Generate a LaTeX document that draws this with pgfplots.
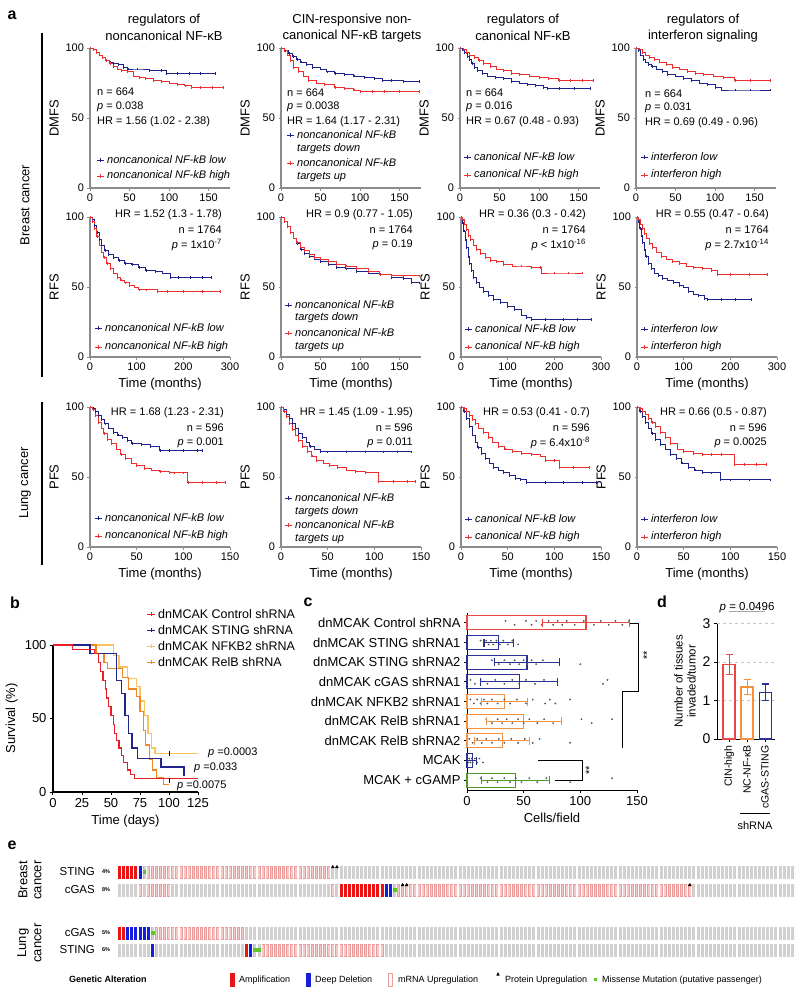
\documentclass[border=0pt]{standalone}
\usepackage{fontspec}
\setmainfont{Liberation Sans}
\usepackage{pgfplots}
\pgfplotsset{compat=1.18}

\definecolor{kmblue}{RGB}{30,35,140}
\definecolor{kmred}{RGB}{240,45,45}
\definecolor{axgray}{RGB}{140,140,140}
\definecolor{bred}{RGB}{232,30,40}
\definecolor{bblue}{RGB}{35,35,140}
\definecolor{byel}{RGB}{250,195,95}
\definecolor{bora}{RGB}{240,135,35}
\definecolor{cred}{RGB}{235,70,70}
\definecolor{cblue}{RGB}{40,50,150}
\definecolor{cora}{RGB}{245,145,60}
\definecolor{cgrn}{RGB}{80,150,40}
\definecolor{cellgray}{RGB}{208,208,208}
\definecolor{ampred}{RGB}{235,20,20}
\definecolor{deepblue}{RGB}{20,30,220}
\definecolor{mrnaline}{RGB}{236,155,155}
\definecolor{mrnafill}{RGB}{246,200,200}
\definecolor{misgreen}{RGB}{90,200,40}

\newcommand{\fa}{\fontsize{11}{12}\selectfont}
\newcommand{\ft}{\fontsize{13}{15}\selectfont}
\newcommand{\fb}{\fontsize{12.5}{14}\selectfont}
\newcommand{\fc}{\fontsize{13}{14}\selectfont}
\newcommand{\fe}{\fontsize{9}{10}\selectfont}

% text in panel a, absolute px
\newcommand{\T}[4][west]{\node[anchor=#1,inner sep=0pt,font=\fa] at (#2pt,-#3pt) {#4};}
% legend line with censor tick
\newcommand{\LG}[4]{%
  \draw[#3,line width=1pt] (#1pt,-#2pt) -- ++(7pt,0pt);
  \draw[#3,line width=0.6pt] (#1pt+3.5pt,-#2pt+1.7pt) -- ++(0pt,-3.4pt);
  \node[anchor=west,inner sep=0pt,font=\fa\itshape] at (#1pt+10pt,-#2pt) {#4};}
\newcommand{\LGb}[4]{%
  \draw[#3,line width=1pt] (#1pt,-#2pt) -- ++(8pt,0pt);
  \draw[#3,line width=0.6pt] (#1pt+4pt,-#2pt+1.8pt) -- ++(0pt,-3.6pt);
  \node[anchor=west,inner sep=0pt,font=\fb] at (#1pt+11pt,-#2pt) {#4};}
\newcommand{\PL}[3]{\node[font=\fontsize{16}{18}\selectfont\bfseries,inner sep=0pt] at (#1pt,-#2pt) {#3};}

\tikzset{
  cell/.style={line width=13pt, dash pattern=on 3pt off 1.103pt},
  amp/.style={cell, color=ampred},
  del/.style={cell, color=deepblue},
  mra/.style={cell, color=mrnaline},
  mrb/.style={line width=11pt, color=mrnafill, dash pattern=on 1.6pt off 2.503pt},
}
\pgfplotsset{
  /pgf/number format/assume math mode=true,
  km/.style={scale only axis, width=140pt, height=140pt, anchor=south west,
    axis lines*=left, xmin=0, ymin=0, ymax=100, ytick={0,50,100}, clip=false,
    axis line style={draw=axgray, line width=1.1pt},
    tick style={draw=axgray, line width=0.8pt}, tick align=outside, major tick length=2.5pt,
    tick label style={font=\fa}, label style={font=\ft}},
  k1/.style={xmax=177, xtick={0,50,100,150}},
  k3/.style={xmax=300, xtick={0,100,200,300}},
  k5/.style={xmax=150, xtick={0,50,100,150}},
  lo/.style={const plot, color=kmblue, line width=1pt, mark=|, mark size=1.3pt, mark options={line width=0.5pt}},
  hi/.style={const plot, color=kmred, line width=1pt, mark=|, mark size=1.3pt, mark options={line width=0.5pt}},
  hb/.style={xbar, bar width=14pt, bar shift=0pt, draw=#1, line width=1.2pt, fill=none},
  he/.style={color=#1, line width=1.1pt, mark=|, mark size=4pt, mark options={line width=1.1pt}},
  vb/.style={ybar, bar width=12pt, bar shift=0pt, draw=#1, line width=1.2pt, fill=none},
  ve/.style={color=#1, line width=1.1pt, mark=-, mark size=3.5pt, mark options={line width=1.1pt}},
}

\begin{document}
\begin{tikzpicture}
\useasboundingbox (0pt,0pt) rectangle (800pt,-997pt);

%% ---------------- panel a ----------------
\PL{12}{15}{a}
\draw[line width=1.2pt] (42pt,-33pt) -- (42pt,-377pt);
\draw[line width=1.2pt] (42pt,-402pt) -- (42pt,-565pt);
\node[rotate=90,font=\ft] at (25pt,-205pt) {Breast cancer};
\node[rotate=90,font=\ft] at (25pt,-483pt) {Lung cancer};

\node[font=\ft] at (164pt,-20pt) {regulators of};
\node[font=\ft] at (164pt,-36pt) {noncanonical NF-κB};
\node[font=\ft] at (352pt,-20pt) {CIN-responsive non-};
\node[font=\ft] at (352pt,-36pt) {canonical NF-κB targets};
\node[font=\ft] at (523pt,-20pt) {regulators of};
\node[font=\ft] at (523pt,-36pt) {canonical NF-κB};
\node[font=\ft] at (703pt,-20pt) {regulators of};
\node[font=\ft] at (703pt,-36pt) {interferon signaling};

% row 1: DMFS
\begin{axis}[km,k1,at={(90pt,-188pt)},ylabel={DMFS}]
\addplot[lo] coordinates {(0,100)(4,99)(8,97)(12,95)(16,93)(20,91)(25,90)(30,89)(36,88)(42,86)(48,85)(60,85)(75,84)(90,84)(97,82)(110,82)(125,82)(140,82)(158,82)};
\addplot[hi] coordinates {(0,100)(4,99)(8,97)(12,95)(16,93)(20,91)(25,89)(30,87)(35,85)(40,84)(47,83)(55,80)(62,79)(70,78)(80,77)(90,76)(100,75)(110,74)(120,73)(128,72)(140,72)(155,72)(169,72)};
\end{axis}
\begin{axis}[km,k1,at={(281pt,-188pt)},ylabel={DMFS}]
\addplot[lo] coordinates {(0,100)(5,98)(10,96)(15,94)(20,92)(25,90)(32,88)(40,86)(50,85)(58,83)(68,82)(80,81)(92,80)(105,79)(118,78)(128,77)(140,77)(155,76)(175,76)};
\addplot[hi] coordinates {(0,100)(4,98)(8,95)(12,91)(16,86)(22,83)(28,80)(35,77)(45,75)(55,74)(68,72)(80,71)(92,70)(100,69)(115,69)(130,69)(150,69)(175,69)};
\end{axis}
\begin{axis}[km,k1,at={(460pt,-188pt)},ylabel={DMFS}]
\addplot[lo] coordinates {(0,100)(3,99)(6,97)(9,94)(12,92)(15,89)(18,86)(22,84)(28,82)(35,80)(45,79)(55,78)(65,76)(75,75)(85,74)(95,73)(105,72)(110,71)(125,71)(145,71)(165,71)};
\addplot[hi] coordinates {(0,100)(4,99)(8,97)(12,95)(18,93)(24,91)(30,89)(38,87)(46,85)(55,84)(65,82)(75,81)(88,80)(100,79)(112,78)(125,77)(140,77)(155,77)(168,77)};
\end{axis}
\begin{axis}[km,k1,at={(636pt,-188pt)},ylabel={DMFS}]
\addplot[lo] coordinates {(0,100)(3,98)(6,95)(9,92)(12,90)(16,88)(20,87)(26,85)(33,83)(40,81)(50,80)(60,78)(70,77)(80,75)(90,74)(100,72)(108,70)(125,70)(145,70)(170,70)};
\addplot[hi] coordinates {(0,100)(4,99)(8,97)(12,95)(17,93)(23,92)(30,90)(38,88)(46,86)(55,85)(65,83)(75,82)(85,81)(98,80)(110,79)(125,77)(145,77)(170,77)};
\end{axis}

\T{97}{92}{n = 664}
\T{97}{107}{\textit{p} = 0.038}
\T{97}{122}{HR = 1.56 (1.02 - 2.38)}
\LG{97}{160}{kmblue}{noncanonical NF-kB low}
\LG{97}{176}{kmred}{noncanonical NF-kB high}

\T{287}{93}{n = 664}
\T{287}{107}{\textit{p} = 0.0038}
\T{287}{122}{HR = 1.64 (1.17 - 2.31)}
\LG{287}{135}{kmblue}{noncanonical NF-kB}
\node[anchor=west,inner sep=0pt,font=\fa\itshape] at (297pt,-149pt) {targets down};
\LG{287}{163}{kmred}{noncanonical NF-kB}
\node[anchor=west,inner sep=0pt,font=\fa\itshape] at (297pt,-177pt) {targets up};

\T{466}{93}{n = 664}
\T{466}{107}{\textit{p} = 0.016}
\T{466}{122}{HR = 0.67 (0.48 - 0.93)}
\LG{464}{157}{kmblue}{canonical NF-kB low}
\LG{464}{175}{kmred}{canonical NF-kB high}

\T{645}{94}{n = 664}
\T{645}{108}{\textit{p} = 0.031}
\T{645}{123}{HR = 0.69 (0.49 - 0.96)}
\LG{641}{157}{kmblue}{interferon low}
\LG{641}{175}{kmred}{interferon high}

% row 2: RFS
\begin{axis}[km,k3,at={(90pt,-357pt)},ylabel={RFS},xlabel={Time (months)}]
\addplot[lo] coordinates {(0,100)(5,98)(10,94)(15,89)(20,84)(25,80)(32,76)(40,73)(50,71)(62,69)(75,67)(90,66)(105,64)(120,62)(140,61)(155,60)(172,57)(190,57)(215,57)(240,57)(260,57)};
\addplot[hi] coordinates {(0,100)(5,97)(10,92)(15,86)(20,80)(25,75)(30,71)(36,67)(43,63)(50,60)(58,57)(66,55)(75,53)(85,51)(95,50)(105,48)(120,48)(145,47)(165,47)(200,47)(240,47)(280,47)};
\end{axis}
\begin{axis}[km,k1,at={(281pt,-357pt)},ylabel={RFS},xlabel={Time (months)}]
\addplot[lo] coordinates {(0,100)(4,97)(8,93)(12,89)(16,85)(20,81)(25,77)(30,74)(36,72)(42,70)(50,68)(60,66)(70,64)(82,63)(95,61)(110,60)(125,59)(140,57)(155,56)(165,53)(175,53)};
\addplot[hi] coordinates {(0,100)(4,97)(8,93)(12,89)(16,85)(20,82)(25,78)(30,76)(36,73)(42,71)(50,70)(60,68)(70,66)(82,65)(95,63)(110,61)(125,59)(140,58)(155,58)(175,58)};
\end{axis}
\begin{axis}[km,k3,at={(461pt,-357pt)},ylabel={RFS},xlabel={Time (months)}]
\addplot[lo] coordinates {(0,100)(3,96)(6,90)(9,84)(12,78)(15,72)(18,67)(22,62)(27,57)(33,53)(40,50)(48,47)(58,44)(70,41)(85,39)(100,36)(115,34)(130,30)(140,28)(150,27)(180,27)(220,27)(250,27)(280,27)};
\addplot[hi] coordinates {(0,100)(4,98)(8,95)(12,91)(16,87)(20,84)(26,80)(33,77)(42,74)(52,71)(63,69)(75,68)(90,66)(110,65)(130,65)(150,64)(170,64)(172,60)(200,60)(230,60)(260,60)};
\end{axis}
\begin{axis}[km,k3,at={(637pt,-357pt)},ylabel={RFS},xlabel={Time (months)}]
\addplot[lo] coordinates {(0,100)(3,97)(6,92)(9,87)(12,82)(15,77)(19,72)(24,67)(30,63)(38,60)(46,58)(55,56)(65,55)(78,53)(90,51)(100,50)(110,47)(120,45)(132,44)(145,42)(150,41)(180,41)(210,41)(245,41)};
\addplot[hi] coordinates {(0,100)(4,98)(8,95)(12,92)(16,88)(20,85)(26,81)(33,78)(42,75)(52,72)(63,70)(75,68)(90,67)(105,65)(120,64)(140,63)(160,62)(172,59)(200,59)(240,59)(280,59)};
\end{axis}

\T[east]{222}{215}{HR = 1.52 (1.3 - 1.78)}
\T[east]{222}{230}{n = 1764}
\T[east]{222}{245}{\textit{p} = 1x10\textsuperscript{-7}}
\LG{95}{328}{kmblue}{noncanonical NF-kB low}
\LG{95}{347}{kmred}{noncanonical NF-kB high}

\T[east]{413}{215}{HR = 0.9 (0.77 - 1.05)}
\T[east]{413}{230}{n = 1764}
\T[east]{413}{245}{\textit{p} = 0.19}
\LG{285}{305}{kmblue}{noncanonical NF-kB}
\node[anchor=west,inner sep=0pt,font=\fa\itshape] at (295pt,-318pt) {targets down};
\LG{285}{333}{kmred}{noncanonical NF-kB}
\node[anchor=west,inner sep=0pt,font=\fa\itshape] at (295pt,-347pt) {targets up};

\T[east]{586}{215}{HR = 0.36 (0.3 - 0.42)}
\T[east]{586}{230}{n = 1764}
\T[east]{586}{245}{\textit{p} < 1x10\textsuperscript{-16}}
\LG{465}{329}{kmblue}{canonical NF-kB low}
\LG{465}{347}{kmred}{canonical NF-kB high}

\T[east]{769}{215}{HR = 0.55 (0.47 - 0.64)}
\T[east]{769}{230}{n = 1764}
\T[east]{769}{245}{\textit{p} = 2.7x10\textsuperscript{-14}}
\LG{641}{329}{kmblue}{interferon low}
\LG{641}{347}{kmred}{interferon high}

% row 3: PFS
\begin{axis}[km,k5,at={(90pt,-547pt)},ylabel={PFS},xlabel={Time (months)}]
\addplot[lo] coordinates {(0,100)(3,99)(6,97)(9,94)(12,91)(16,88)(20,85)(25,82)(30,80)(35,78)(40,76)(45,74)(55,73)(65,72)(75,69)(85,69)(100,69)(115,69)(120,69)};
\addplot[hi] coordinates {(0,100)(3,98)(6,94)(9,89)(12,85)(15,81)(19,77)(23,74)(28,70)(33,66)(38,63)(44,60)(50,58)(58,56)(66,55)(75,54)(85,53)(90,53)(100,53)(105,46)(120,46)(135,46)(145,46)};
\end{axis}
\begin{axis}[km,k5,at={(281pt,-547pt)},ylabel={PFS},xlabel={Time (months)}]
\addplot[lo] coordinates {(0,100)(3,98)(6,95)(9,92)(12,88)(15,85)(19,81)(23,78)(27,75)(31,72)(36,70)(42,68)(50,68)(70,68)(90,68)(110,68)(125,68)(140,68)};
\addplot[hi] coordinates {(0,100)(3,97)(6,93)(9,88)(12,84)(15,80)(19,76)(23,72)(28,68)(33,65)(38,62)(45,60)(52,58)(60,57)(70,55)(80,54)(90,53)(104,47)(120,47)(135,47)(144,47)};
\end{axis}
\begin{axis}[km,k5,at={(461pt,-547pt)},ylabel={PFS},xlabel={Time (months)}]
\addplot[lo] coordinates {(0,100)(3,97)(6,92)(9,86)(12,80)(15,75)(18,71)(22,67)(26,63)(30,60)(35,57)(40,55)(45,53)(52,51)(58,49)(64,48)(70,46)(90,46)(110,46)(130,46)(145,46)};
\addplot[hi] coordinates {(0,100)(3,99)(6,97)(9,94)(12,91)(15,88)(19,85)(24,82)(29,78)(34,75)(40,72)(47,70)(55,68)(65,67)(75,66)(85,65)(90,62)(100,62)(105,57)(120,57)(137,57)};
\end{axis}
\begin{axis}[km,k5,at={(637pt,-547pt)},ylabel={PFS},xlabel={Time (months)}]
\addplot[lo] coordinates {(0,100)(3,97)(6,93)(9,89)(12,85)(16,81)(20,77)(25,73)(30,70)(36,66)(42,63)(48,60)(55,57)(62,55)(70,53)(80,53)(89,48)(100,48)(120,48)(143,48)};
\addplot[hi] coordinates {(0,100)(3,99)(6,97)(9,95)(12,92)(16,89)(20,86)(25,82)(30,78)(36,74)(43,70)(50,68)(60,67)(70,66)(80,66)(90,66)(104,59)(115,59)(128,59)(138,59)};
\end{axis}

\T[east]{224}{413}{HR = 1.68 (1.23 - 2.31)}
\T[east]{224}{428}{n = 596}
\T[east]{224}{443}{\textit{p} = 0.001}
\LG{95}{518}{kmblue}{noncanonical NF-kB low}
\LG{95}{536}{kmred}{noncanonical NF-kB high}

\T[east]{413}{413}{HR = 1.45 (1.09 - 1.95)}
\T[east]{413}{428}{n = 596}
\T[east]{413}{443}{\textit{p} = 0.011}
\LG{285}{498}{kmblue}{noncanonical NF-kB}
\node[anchor=west,inner sep=0pt,font=\fa\itshape] at (295pt,-512pt) {targets down};
\LG{285}{525}{kmred}{noncanonical NF-kB}
\node[anchor=west,inner sep=0pt,font=\fa\itshape] at (295pt,-539pt) {targets up};

\T[east]{590}{413}{HR = 0.53 (0.41 - 0.7)}
\T[east]{590}{428}{n = 596}
\T[east]{590}{443}{\textit{p} = 6.4x10\textsuperscript{-8}}
\LG{465}{519}{kmblue}{canonical NF-kB low}
\LG{465}{537}{kmred}{canonical NF-kB high}

\T[east]{767}{413}{HR = 0.66 (0.5 - 0.87)}
\T[east]{767}{428}{n = 596}
\T[east]{767}{443}{\textit{p} = 0.0025}
\LG{641}{519}{kmblue}{interferon low}
\LG{641}{537}{kmred}{interferon high}

%% ---------------- panel b ----------------
\PL{15}{603}{b}
\begin{axis}[at={(53pt,-792pt)}, anchor=south west, scale only axis, width=145pt, height=147pt,
  xmin=0, xmax=125, ymin=0, ymax=100, axis lines*=left, clip=false,
  xtick={0,25,50,75,100,125}, ytick={0,50,100},
  axis line style={line width=1.3pt}, tick style={black, line width=1pt}, tick align=outside, major tick length=3pt,
  tick label style={font=\fc}, label style={font=\fc},
  xlabel={Time (days)}, ylabel={Survival (\%)}]
\addplot[const plot, color=byel, line width=1.3pt] coordinates {(0,100)(52,93)(57,85)(64,77)(72,72)(75,62)(79,52)(82,40)(85,30)(88,26)(125,26)};
\addplot[const plot, color=bora, line width=1.3pt] coordinates {(0,100)(37,94)(44,88)(47,84)(60,78)(65,70)(72,65)(75,55)(78,42)(80,32)(83,22)(86,15)(89,10)(95,5)(100,5)};
\addplot[const plot, color=bblue, line width=1.3pt] coordinates {(0,100)(32,94)(55,76)(59,67)(62,52)(65,40)(68,30)(73,23)(93,17)(113,11)(114,11)};
\addplot[const plot, color=bred, line width=1.3pt] coordinates {(0,100)(17,97)(36,94)(39,88)(41,82)(43,76)(45,70)(46,64)(48,58)(50,52)(52,46)(53,40)(55,35)(57,30)(59,25)(61,20)(64,15)(67,12)(70,9)(125,9)};
\addplot[only marks, mark=|, mark size=2.5pt, black, mark options={line width=0.8pt}] coordinates {(100,26)(100,8)};
\end{axis}
\LGb{147}{614}{bred}{dnMCAK Control shRNA}
\LGb{147}{630}{bblue}{dnMCAK STING shRNA}
\LGb{147}{646}{byel}{dnMCAK NFKB2 shRNA}
\LGb{147}{662}{bora}{dnMCAK RelB shRNA}
\node[anchor=west,inner sep=0pt,font=\fa] at (208pt,-753pt) {\textit{p} =0.0003};
\node[anchor=west,inner sep=0pt,font=\fa] at (194pt,-768pt) {\textit{p} =0.033};
\node[anchor=west,inner sep=0pt,font=\fa] at (177pt,-786pt) {\textit{p} =0.0075};

%% ---------------- panel c ----------------
\PL{308}{602}{c}
\begin{axis}[at={(467pt,-790pt)}, anchor=south west, scale only axis, width=170pt, height=177pt,
  xmin=0, xmax=150, ymin=-0.5, ymax=8.5, axis lines*=left, clip=false,
  axis line style={line width=0.9pt}, tick style={black, line width=0.8pt}, tick align=outside, major tick length=3pt,
  xtick={0,50,100,150}, ytick={0,1,2,3,4,5,6,7,8},
  yticklabels={MCAK + cGAMP, MCAK, dnMCAK RelB shRNA2, dnMCAK RelB shRNA1, dnMCAK NFKB2 shRNA1, dnMCAK cGAS shRNA1, dnMCAK STING shRNA2, dnMCAK STING shRNA1, dnMCAK Control shRNA},
  tick label style={font=\fc}, label style={font=\fc}, xlabel={Cells/field}]
% mean bars
\addplot[hb=cred] coordinates {(105,8)};
\addplot[hb=cblue] coordinates {(28,7)};
\addplot[hb=cblue] coordinates {(53,6)};
\addplot[hb=cblue] coordinates {(46,5)};
\addplot[hb=cora] coordinates {(33,4)};
\addplot[hb=cora] coordinates {(50,3)};
\addplot[hb=cora] coordinates {(31,2)};
\addplot[hb=cblue] coordinates {(4.5,1)};
\addplot[hb=cgrn] coordinates {(43,0)};
% individual fields
\addplot[only marks, mark=*, mark size=0.7pt, color=gray!70!black] coordinates {
 (34,8.1)(42,7.9)(52,8.1)(57,7.9)(61,8.1)(66,7.9)(72,8.1)(76,7.9)(80,8.1)(84,7.9)(88,8.1)(95,7.9)(103,8.1)(112,7.9)(118,8.1)(125,7.9)(131,8.1)(137,7.9)(143,8.1)
 (12,7.1)(15,6.9)(17,7.1)(19,6.9)(21,7.1)(23,6.9)(26,7.1)(29,6.9)(32,7.1)(36,6.9)(40,7.1)(45,6.9)
 (22,6.1)(28,5.9)(33,6.1)(38,5.9)(42,6.1)(46,5.9)(50,6.1)(53,5.9)(57,6.1)(61,5.9)(67,6.1)(100,5.9)
 (3,5.1)(7,4.9)(12,5.1)(18,4.9)(25,5.1)(33,4.9)(40,5.1)(46,4.9)(52,5.1)(60,4.9)(68,5.1)(120,4.9)(124,5.1)
 (3,4.1)(6,3.9)(9,4.1)(12,3.9)(15,4.1)(18,3.9)(22,4.1)(27,3.9)(33,4.1)(38,3.9)(44,4.1)(52,3.9)(58,4.1)(69,3.9)(73,4.1)(78,3.9)(91,4.1)
 (17,3.1)(22,2.9)(27,3.1)(31,2.9)(35,3.1)(40,2.9)(45,3.1)(50,2.9)(55,3.1)(62,2.9)(68,3.1)(76,2.9)(101,3.1)(110,2.9)(128,3.1)
 (2,2.1)(5,1.9)(9,2.1)(13,1.9)(17,2.1)(22,1.9)(28,2.1)(33,1.9)(39,2.1)(45,1.9)(51,2.1)(58,1.9)(64,2.1)(91,1.9)
 (0.5,1.1)(1,0.9)(2,1.1)(3,0.9)(4,1.1)(5,0.9)(7,1.1)(9,0.9)(11,1.1)(14,0.9)
 (12,0.1)(18,-0.1)(22,0.1)(27,-0.1)(33,0.1)(38,-0.1)(43,0.1)(48,-0.1)(55,0.1)(62,-0.1)(70,0.1)(91,-0.1)(128,0.1)};
% SD ranges
\addplot[he=cred] coordinates {(67,8) (143,8)};
\addplot[he=cblue] coordinates {(15,7) (41,7)};
\addplot[he=cblue] coordinates {(24,6) (82,6)};
\addplot[he=cblue] coordinates {(12,5) (80,5)};
\addplot[he=cora] coordinates {(13,4) (53,4)};
\addplot[he=cora] coordinates {(17,3) (83,3)};
\addplot[he=cora] coordinates {(7,2) (55,2)};
\addplot[he=cblue] coordinates {(0.5,1) (8.5,1)};
\addplot[he=cgrn] coordinates {(13,0) (73,0)};
\draw[line width=0.7pt] (axis cs:144,8) -- (axis cs:151,8) -- (axis cs:151,4.5) -- (axis cs:137,4.5);
\draw[line width=0.7pt] (axis cs:137,4.5) -- (axis cs:137,1.63);
\node[rotate=90,font=\fa] at (axis cs:159,6.35) {**};
\draw[line width=0.7pt] (axis cs:63,1) -- (axis cs:102,1) -- (axis cs:102,0) -- (axis cs:78,0);
\node[rotate=90,font=\fa] at (axis cs:108,0.5) {**};
\end{axis}

%% ---------------- panel d ----------------
\PL{662}{602}{d}
\begin{axis}[at={(717pt,-739pt)}, anchor=south west, scale only axis, width=58pt, height=115.5pt,
  xmin=-0.67, xmax=2.55, ymin=0, ymax=3, axis lines*=left, clip=false,
  ytick={0,1,2,3}, xtick={0,1,2}, xticklabels={CIN-high, NC-NF-κB, cGAS-STING},
  xticklabel style={rotate=90, anchor=east, font=\fontsize{10.5}{12}\selectfont},
  yticklabel style={font=\fontsize{14}{15}\selectfont},
  ymajorgrids, grid style={dashed, gray!45, line width=0.8pt},
  ylabel={Number of tissues\\invaded/tumor}, ylabel style={align=center, font=\fontsize{11.5}{13}\selectfont},
  axis line style={line width=1pt}, tick style={black, line width=0.8pt}, tick align=outside, major tick length=3pt]
\addplot[vb=cred] coordinates {(0,1.93)};
\addplot[vb=cora] coordinates {(1,1.35)};
\addplot[vb=cblue] coordinates {(2,1.21)};
\addplot[ve=cred] coordinates {(0,1.67) (0,2.19)};
\addplot[ve=cora] coordinates {(1,1.15) (1,1.55)};
\addplot[ve=cblue] coordinates {(2,0.99) (2,1.43)};
\draw[gray!70, line width=1pt] (axis cs:0,3.3) -- (axis cs:2,3.3);
\node[font=\fontsize{11.5}{13}\selectfont, anchor=base] at (axis cs:1,3.33) {\textit{p} = 0.0496};
\end{axis}
\draw[line width=0.7pt] (740pt,-813pt) -- (770pt,-813pt);
\node[font=\fontsize{11}{12}\selectfont] at (755pt,-826pt) {shRNA};

%% ---------------- panel e ----------------
\PL{12}{845}{e}
\begin{axis}[at={(118pt,-960pt)}, anchor=south west, scale only axis, width=677pt, height=100pt,
  xmin=0, xmax=165, ymin=0, ymax=100, axis lines=none, clip=false]
\draw[cell, cellgray] (axis cs:0,88) -- (axis cs:165,88);
\draw[cell, cellgray] (axis cs:0,70) -- (axis cs:165,70);
\draw[cell, cellgray] (axis cs:0,27) -- (axis cs:165,27);
\draw[cell, cellgray] (axis cs:0,10) -- (axis cs:165,10);
% breast STING
\addplot[amp] coordinates {(0,88) (5,88)};
\addplot[del] coordinates {(5,88) (6,88)};
\addplot[mra] coordinates {(7,88) (52,88)};
\addplot[mrb] coordinates {(7.17,88) (52,88)};
% breast cGAS
\addplot[mra] coordinates {(5,70) (6,70)};
\addplot[mrb] coordinates {(5.17,70) (6,70)};
\addplot[mra] coordinates {(7,70) (13,70)};
\addplot[mrb] coordinates {(7.17,70) (13,70)};
\addplot[mra] coordinates {(52,70) (53,70)};
\addplot[mrb] coordinates {(52.17,70) (53,70)};
\addplot[amp] coordinates {(54,70) (65,70)};
\addplot[del] coordinates {(65,70) (67,70)};
\addplot[mra] coordinates {(68,70) (140,70)};
\addplot[mrb] coordinates {(68.17,70) (140,70)};
% lung cGAS
\addplot[amp] coordinates {(0,27) (2,27)};
\addplot[del] coordinates {(2,27) (8,27)};
\addplot[mra] coordinates {(9,27) (31,27)};
\addplot[mrb] coordinates {(9.17,27) (31,27)};
% lung STING
\addplot[del] coordinates {(8,10) (9,10)};
\addplot[amp] coordinates {(31,10) (32,10)};
\addplot[del] coordinates {(32,10) (33,10)};
\addplot[mra] coordinates {(35,10) (65,10)};
\addplot[mrb] coordinates {(35.17,10) (65,10)};
% missense and protein marks
\addplot[only marks, mark=square*, mark size=1.4pt, color=misgreen] coordinates {(6.37,88) (67.37,70) (8.37,27) (33.37,10) (34.37,10)};
\addplot[only marks, mark=triangle*, mark size=1.6pt, color=black] coordinates {(52.37,93) (53.37,93) (69.37,75) (70.37,75) (139.37,75)};
\end{axis}

\node[rotate=90,font=\fc] at (23pt,-880pt) {Breast};
\node[rotate=90,font=\fc] at (38pt,-880pt) {cancer};
\node[rotate=90,font=\fc] at (23pt,-943pt) {Lung};
\node[rotate=90,font=\fc] at (38pt,-943pt) {cancer};
\node[anchor=east,inner sep=0pt,font=\fontsize{11.5}{12}\selectfont] at (95pt,-872pt) {STING};
\node[anchor=east,inner sep=0pt,font=\fontsize{11.5}{12}\selectfont] at (95pt,-890pt) {cGAS};
\node[anchor=east,inner sep=0pt,font=\fontsize{11.5}{12}\selectfont] at (95pt,-933pt) {cGAS};
\node[anchor=east,inner sep=0pt,font=\fontsize{11.5}{12}\selectfont] at (95pt,-950pt) {STING};
\node[font=\fontsize{5.5}{6}\selectfont\bfseries] at (106pt,-872pt) {4\%};
\node[font=\fontsize{5.5}{6}\selectfont\bfseries] at (106pt,-890pt) {8\%};
\node[font=\fontsize{5.5}{6}\selectfont\bfseries] at (106pt,-933pt) {5\%};
\node[font=\fontsize{5.5}{6}\selectfont\bfseries] at (106pt,-950pt) {6\%};

% legend of panel e
\node[anchor=west,inner sep=0pt,font=\fe\bfseries] at (69pt,-979pt) {Genetic Alteration};
\fill[ampred] (230pt,-973pt) rectangle ++(4.5pt,-14pt);
\node[anchor=west,inner sep=0pt,font=\fe] at (239pt,-980pt) {Amplification};
\fill[deepblue] (306pt,-973pt) rectangle ++(4.5pt,-14pt);
\node[anchor=west,inner sep=0pt,font=\fe] at (315pt,-980pt) {Deep Deletion};
\draw[mrnaline, fill=white, line width=0.7pt] (388pt,-973.5pt) rectangle ++(4pt,-13pt);
\node[anchor=west,inner sep=0pt,font=\fe] at (398pt,-980pt) {mRNA Upregulation};
\fill[black] (498pt,-972pt) -- (496.3pt,-975.5pt) -- (499.7pt,-975.5pt) -- cycle;
\node[anchor=west,inner sep=0pt,font=\fe] at (505pt,-980pt) {Protein Upregulation};
\fill[misgreen] (593.5pt,-977.5pt) rectangle ++(3.5pt,-3.5pt);
\node[anchor=west,inner sep=0pt,font=\fe] at (602pt,-980pt) {Missense Mutation (putative passenger)};

\end{tikzpicture}
\end{document}
